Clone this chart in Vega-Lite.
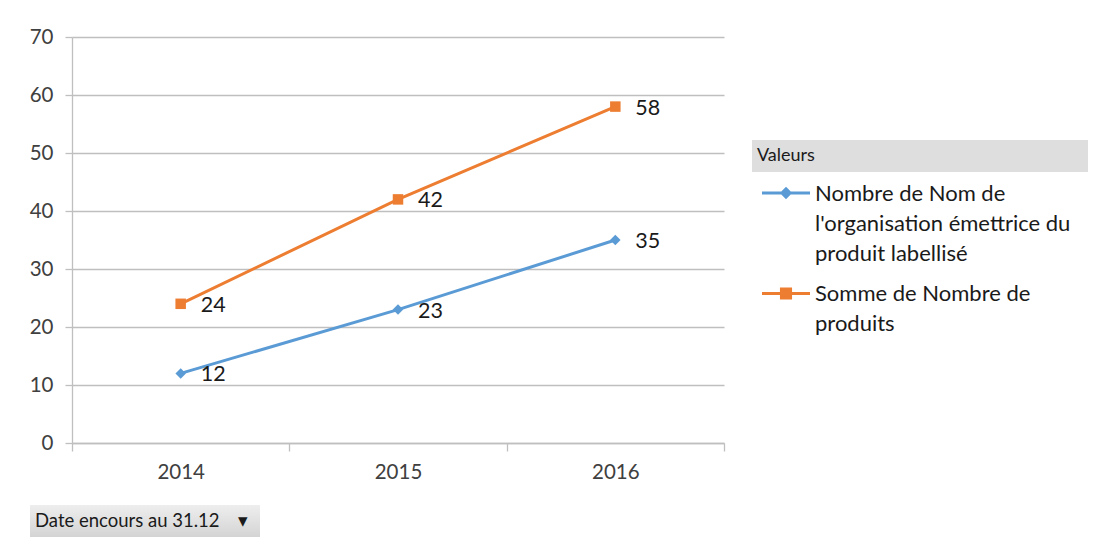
{
  "$schema": "https://vega.github.io/schema/vega-lite/v6.json",
  "autosize": {"type": "none"},
  "width": 652,
  "height": 406,
  "padding": {"left": 72, "top": 37, "right": 372, "bottom": 99},
  "background": "white",
  "config": {
    "view": {"stroke": null},
    "font": "Lato",
    "axis": {"labelFont": "Lato", "labelFontSize": 20.5, "labelColor": "#404040", "domainColor": "#bfbfbf", "tickColor": "#bfbfbf", "gridColor": "#bfbfbf", "domainWidth": 1.3, "gridWidth": 1.3, "tickWidth": 1.3}
  },
  "datasets": {
    "series": [
      {"annee": "2014", "serie": "Nombre de Nom de l'organisation émettrice du produit labellisé", "valeur": 12},
      {"annee": "2015", "serie": "Nombre de Nom de l'organisation émettrice du produit labellisé", "valeur": 23},
      {"annee": "2016", "serie": "Nombre de Nom de l'organisation émettrice du produit labellisé", "valeur": 35},
      {"annee": "2014", "serie": "Somme de Nombre de produits", "valeur": 24},
      {"annee": "2015", "serie": "Somme de Nombre de produits", "valeur": 42},
      {"annee": "2016", "serie": "Somme de Nombre de produits", "valeur": 58}
    ],
    "extras": [
      {"entete": "Valeurs", "bouton": "Date encours au 31.12\u00a0\u00a0\u00a0\u00a0▾"}
    ]
  },
  "layer": [
    {
      "data": {"name": "series"},
      "mark": {"type": "line", "strokeWidth": 3},
      "encoding": {
        "x": {"field": "annee", "type": "ordinal", "scale": {"type": "band", "paddingInner": 0, "paddingOuter": 0},
              "axis": {"title": null, "labelAngle": 0, "tickBand": "extent", "tickSize": 8, "labelPadding": 11, "grid": false}},
        "y": {"field": "valeur", "type": "quantitative", "scale": {"domain": [0, 70], "nice": false},
              "axis": {"title": null, "values": [0, 10, 20, 30, 40, 50, 60, 70], "tickSize": 7, "labelPadding": 12, "grid": true}},
        "color": {
          "field": "serie", "type": "nominal",
          "scale": {"domain": ["Nombre de Nom de l'organisation émettrice du produit labellisé", "Somme de Nombre de produits"], "range": ["#5b9bd5", "#ed7d31"]},
          "legend": {
            "title": null, "orient": "none", "legendX": 688.5, "legendY": 130.5, "padding": 0,
            "symbolSize": 2304, "symbolStrokeWidth": 3, "labelOffset": 3.5, "rowPadding": 3.5,
            "labelFont": "Lato", "labelFontSize": 22, "labelColor": "#1a1a1a", "labelLimit": 400, "labelBaseline": "alphabetic",
            "labelExpr": "datum.value == 'Somme de Nombre de produits' ? ['Somme de Nombre de', 'produits'] : ['Nombre de Nom de', \"l'organisation émettrice du\", 'produit labellisé']",
            "encode": {
              "symbols": {"update": {
                "shape": {"signal": "datum.value == 'Somme de Nombre de produits' ? 'M-1,0H1M-0.19,-0.19H0.19V0.19H-0.19Z' : 'M-1,0H1M0,-0.17L0.17,0L0,0.17L-0.17,0Z'"},
                "fill": {"signal": "datum.value == 'Somme de Nombre de produits' ? '#ed7d31' : '#5b9bd5'"},
                "stroke": {"signal": "datum.value == 'Somme de Nombre de produits' ? '#ed7d31' : '#5b9bd5'"},
                "strokeWidth": {"value": 3},
                "opacity": {"value": 1}
              }},
              "labels": {"update": {"dy": {"value": 7.5}, "lineHeight": {"value": 30}}}
            }
          }
        }
      }
    },
    {
      "data": {"name": "series"},
      "transform": [{"filter": "datum.serie != 'Somme de Nombre de produits'"}],
      "mark": {"type": "point", "filled": true, "opacity": 1, "shape": "diamond", "size": 110},
      "encoding": {
        "x": {"field": "annee", "type": "ordinal"},
        "y": {"field": "valeur", "type": "quantitative"},
        "color": {"field": "serie", "type": "nominal", "legend": null}
      }
    },
    {
      "data": {"name": "series"},
      "transform": [{"filter": "datum.serie == 'Somme de Nombre de produits'"}],
      "mark": {"type": "point", "filled": true, "opacity": 1, "shape": "square", "size": 110},
      "encoding": {
        "x": {"field": "annee", "type": "ordinal"},
        "y": {"field": "valeur", "type": "quantitative"},
        "color": {"field": "serie", "type": "nominal", "legend": null}
      }
    },
    {
      "data": {"name": "series"},
      "mark": {"type": "text", "align": "left", "baseline": "middle", "dx": 20, "dy": 2, "fontSize": 21.5, "font": "Lato", "color": "#1a1a1a"},
      "encoding": {
        "x": {"field": "annee", "type": "ordinal"},
        "y": {"field": "valeur", "type": "quantitative"},
        "text": {"field": "valeur", "type": "quantitative"}
      }
    },
    {
      "data": {"name": "extras"},
      "mark": {"type": "point", "opacity": 0, "filled": true},
      "encoding": {
        "fill": {
          "field": "entete", "type": "nominal", "scale": {"range": ["#dedede"]},
          "legend": {
            "title": null, "orient": "none", "legendX": 680, "legendY": 103, "padding": 0,
            "symbolSize": 1024, "symbolStrokeWidth": 0, "symbolType": "M-1,-1H20V1H-1Z", "symbolOpacity": 1, "symbolFillColor": "#dedede",
            "labelOffset": -27,
            "labelFont": "Lato", "labelFontSize": 18, "labelColor": "#1a1a1a", "labelLimit": 400,
            "encode": {"symbols": {"update": {
              "fill": {"value": {"gradient": "linear", "x1": 0, "y1": 0, "x2": 0, "y2": 1, "stops": [{"offset": 0, "color": "#eeeeee"}, {"offset": 1, "color": "#d4d4d4"}]}},
              "opacity": {"value": 1}
            }}}
          }
        },
        "stroke": {
          "field": "bouton", "type": "nominal", "scale": {"range": ["#dedede"]},
          "legend": {
            "title": null, "orient": "none", "legendX": -42, "legendY": 468, "padding": 0,
            "symbolSize": 1024, "symbolStrokeWidth": 0, "symbolType": "M-1,-1H13.375V1H-1Z", "symbolOpacity": 1, "symbolFillColor": "#dedede",
            "labelOffset": -27,
            "labelFont": "Lato", "labelFontSize": 18.5, "labelColor": "#1a1a1a", "labelLimit": 400,
            "encode": {"symbols": {"update": {
              "fill": {"value": {"gradient": "linear", "x1": 0, "y1": 0, "x2": 0, "y2": 1, "stops": [{"offset": 0, "color": "#eeeeee"}, {"offset": 1, "color": "#d4d4d4"}]}},
              "opacity": {"value": 1}
            }}}
          }
        }
      }
    }
  ]
}
